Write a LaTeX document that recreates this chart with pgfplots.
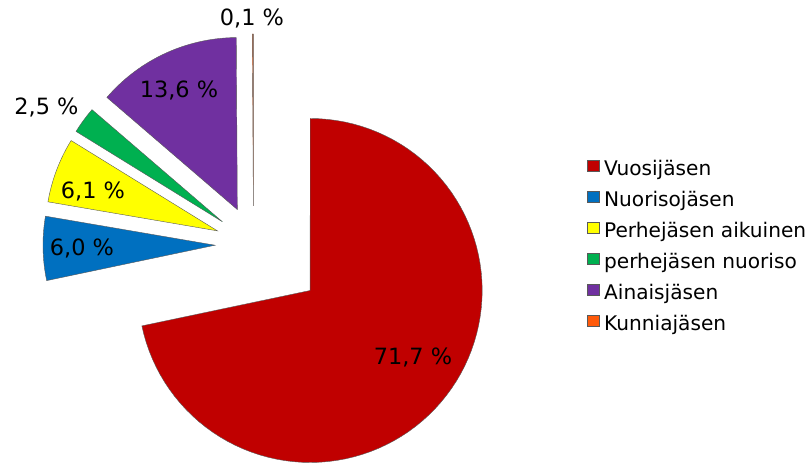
\documentclass[border=0pt]{standalone}
\usepackage{fontspec}
\setmainfont{DejaVu Sans}
\usepackage{pgfplots}
\pgfplotsset{compat=1.18}
\definecolor{cRed}{HTML}{C00000}
\definecolor{cBlue}{HTML}{0070C0}
\definecolor{cYellow}{HTML}{FFFF00}
\definecolor{cGreen}{HTML}{00B050}
\definecolor{cPurple}{HTML}{7030A0}
\definecolor{cOrange}{HTML}{FF5A0A}
\def\R{172}
\def\cx{253.5}
\def\cy{221.5}
\def\astart{90}
\newcommand{\slice}[4]{%
  \pgfmathsetmacro{\aend}{\astart - 3.6*#1}%
  \pgfmathsetmacro{\amid}{(\astart+\aend)/2}%
  \pgfmathsetmacro{\ox}{\cx + #2*cos(\amid)}%
  \pgfmathsetmacro{\oy}{\cy + #2*sin(\amid)}%
  \edef\temp{\noexpand\addplot[fill=#3, draw=black!65, line width=0.3pt, domain=\aend:\astart, samples=90]
    ({\ox + \R*cos(x)}, {\oy + \R*sin(x)}) -- (axis cs:\ox,\oy) -- cycle;}%
  \temp
  \addlegendentry{#4}%
  \global\let\astart\aend
}
\begin{document}
\begin{tikzpicture}
\begin{axis}[
  scale only axis, width=608.25pt, height=349.5pt,
  xmin=0, xmax=811, ymin=0, ymax=466,
  hide axis, clip=false,
  legend cell align=left,
  legend image code/.code={\draw[#1] (0pt,-0.5pt) rectangle (8.6pt,8.1pt);},
  legend style={at={(axis cs:587,306.6)}, anchor=north west, draw=none, fill=none,
    inner sep=0pt, row sep=7.8pt, column sep=3.75pt,
    font=\fontsize{15.1}{18}\selectfont,
    nodes={inner sep=0pt, text height=11pt, text depth=3.5pt}},
]
% value (%), explode distance (px), colour, name
\slice{71.7}{73}{cRed}{Vuosijäsen}
\slice{6.0}{38.5}{cBlue}{Nuorisojäsen}
\slice{6.1}{38.5}{cYellow}{Perhejäsen aikuinen}
\slice{2.5}{38.5}{cGreen}{perhejäsen nuoriso}
\slice{13.6}{38.5}{cPurple}{Ainaisjäsen}
\slice{0.1}{38.5}{cOrange}{Kunniajäsen}
\begin{scope}[every node/.style={font=\fontsize{16.8}{20}\selectfont, anchor=base, inner sep=0pt}]
\node at (axis cs:413,101) {71,7 \%};
\node at (axis cs:179,368) {13,6 \%};
\node at (axis cs:93,267) {6,1 \%};
\node at (axis cs:82,210) {6,0 \%};
\node at (axis cs:46.5,351) {2,5 \%};
\node at (axis cs:252,440) {0,1 \%};
\end{scope}
\end{axis}
\pgfresetboundingbox
\path (current axis.south west) rectangle (current axis.north east);
\end{tikzpicture}
\end{document}
